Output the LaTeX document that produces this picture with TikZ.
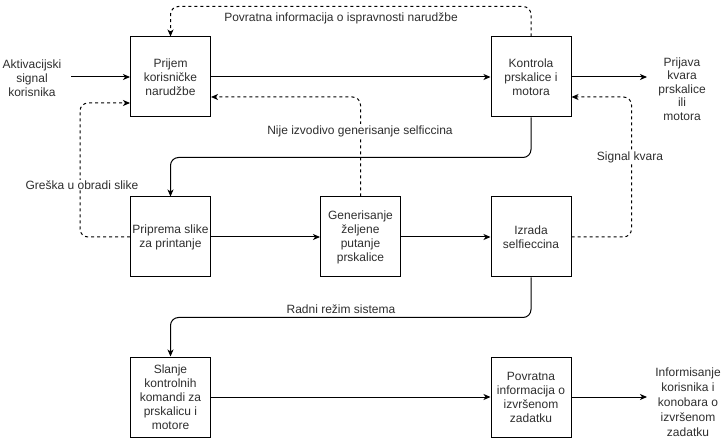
\documentclass[tikz,border=0pt]{standalone}
\usepackage{fontspec}
\setmainfont{Liberation Sans}
\usetikzlibrary{arrows.meta}
\begin{document}
\begin{tikzpicture}[x=1pt,y=-1pt,
  box/.style={draw, line width=1pt, minimum width=80pt, minimum height=80pt, inner sep=1pt, align=center, font=\fontsize{12}{14}\selectfont, text=black!82},
  lbl/.style={align=center, inner sep=1pt, font=\fontsize{12}{14}\selectfont, text=black!82},
  arr/.style={line width=1pt, rounded corners=8pt, -{Stealth[length=7pt,width=6pt,inset=2pt]}},
  darr/.style={arr, dash pattern=on 3pt off 3pt}]
\useasboundingbox (0,0) rectangle (723,438);
% boxes
\node[box] (b1) at (170.5,77) {Prijem\\korisničke\\narudžbe};
\node[box] (b2) at (531,77) {Kontrola\\prskalice i\\motora};
\node[box] (b3) at (170.5,237) {Priprema slike\\za printanje};
\node[box] (b4) at (360.5,237) {Generisanje\\željene\\putanje\\prskalice};
\node[box] (b5) at (531,237) {Izrada\\selfieccina};
\node[box] (b6) at (170.5,397) {Slanje\\kontrolnih\\komandi za\\prskalicu i\\motore};
\node[box] (b7) at (531,397) {Povratna\\informacija o\\izvršenom\\zadatku};
% outer texts
\node[lbl] (in1) at (32,78) {Aktivacijski\\signal\\korisnika};
\node[lbl, font=\fontsize{12}{13.5}\selectfont] (out1) at (682,89) {Prijava\\kvara\\prskalice\\ili\\motora};
\node[lbl, font=\fontsize{12}{15}\selectfont] (out2) at (688,402) {Informisanje\\korisnika i\\konobara o\\izvršenom\\zadatku};
\coordinate (s1) at (71,77);
\coordinate (e1) at (647,77);
\coordinate (e2) at (647,397);
% solid connectors
\draw[arr] (s1) -- (b1);
\draw[arr] (b1) -- (b2);
\draw[arr] (b2) -- (e1);
\draw[arr] (b2.south) -- ++(0,40) -| (b3.north);
\draw[arr] (b3) -- (b4);
\draw[arr] (b4) -- (b5);
\draw[arr] (b5.south) -- ++(0,40) -| (b6.north);
\draw[arr] (b6) -- (b7);
\draw[arr] (b7) -- (e2);
% dashed connectors
\draw[darr] (b2.north) -- ++(0,-30) -| (b1.north);
\draw[darr] (b4.north) |- ([yshift=-20pt]b1.east);
\draw[darr] (b3.west) -- ++(-50,0) |- ([yshift=-26pt]b1.west);
\draw[darr] (b5.east) -- ++(60,0) |- ([yshift=-20pt]b2.east);
% edge labels
\node[lbl] (l1) at (341,18) {Povratna informacija o ispravnosti narudžbe};
\node[lbl, fill=white] (l2) at (360,131) {Nije izvodivo generisanje selficcina};
\node[lbl, fill=white] (l3) at (82,185) {Greška u obradi slike};
\node[lbl, fill=white] (l4) at (630,157) {Signal kvara};
\node[lbl] (l5) at (341,309) {Radni režim sistema};
\end{tikzpicture}
\end{document}
